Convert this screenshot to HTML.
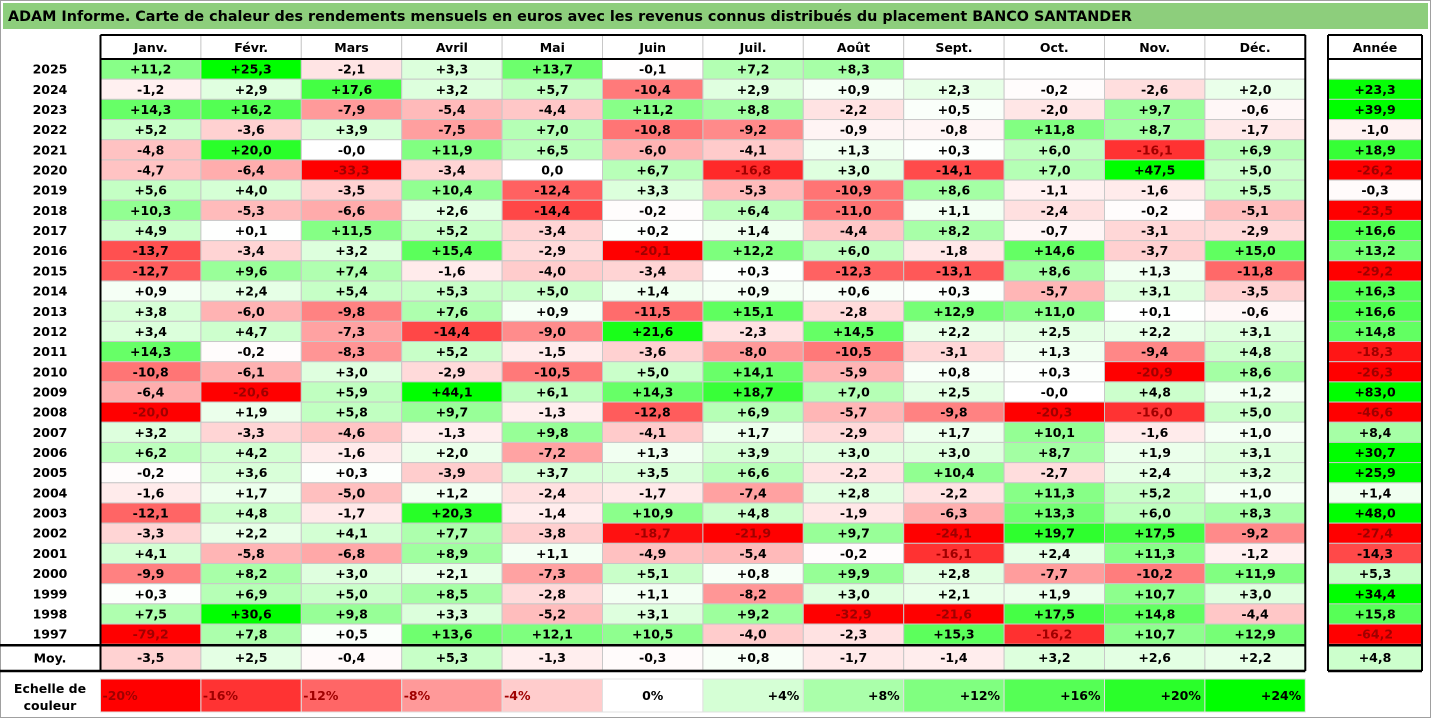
<!DOCTYPE html>
<html><head><meta charset="utf-8"><style>
html,body{margin:0;padding:0;background:#fff;}
svg{display:block;font-family:"DejaVu Sans","Liberation Sans",sans-serif;font-weight:bold;}
</style></head><body>
<svg id="chart" width="1431" height="718" viewBox="0 0 1431 718" xmlns="http://www.w3.org/2000/svg">
<rect x="0.5" y="0.5" width="1430" height="717" fill="#fff" stroke="#a0a0a0"/>
<rect x="3" y="3" width="1425" height="26" fill="#8dce7c"/>
<text x="8" y="21" font-size="14" textLength="1124" lengthAdjust="spacingAndGlyphs" fill="#000">ADAM Informe. Carte de chaleur des rendements mensuels en euros avec les revenus connus distribués du placement BANCO SANTANDER</text>
<g id="cells"></g>
<g id="lines"></g>
</svg>
<script>
const months = ["Janv.","Févr.","Mars","Avril","Mai","Juin","Juil.","Août","Sept.","Oct.","Nov.","Déc."];
const years = [2025,2024,2023,2022,2021,2020,2019,2018,2017,2016,2015,2014,2013,2012,2011,2010,2009,2008,2007,2006,2005,2004,2003,2002,2001,2000,1999,1998,1997];
const monthly = [
[11.2,25.3,-2.1,3.3,13.7,-0.1,7.2,8.3,null,null,null,null],
[-1.2,2.9,17.6,3.2,5.7,-10.4,2.9,0.9,2.3,-0.2,-2.6,2.0],
[14.3,16.2,-7.9,-5.4,-4.4,11.2,8.8,-2.2,0.5,-2.0,9.7,-0.6],
[5.2,-3.6,3.9,-7.5,7.0,-10.8,-9.2,-0.9,-0.8,11.8,8.7,-1.7],
[-4.8,20.0,-0.001,11.9,6.5,-6.0,-4.1,1.3,0.3,6.0,-16.1,6.9],
[-4.7,-6.4,-33.3,-3.4,0.0,6.7,-16.8,3.0,-14.1,7.0,47.5,5.0],
[5.6,4.0,-3.5,10.4,-12.4,3.3,-5.3,-10.9,8.6,-1.1,-1.6,5.5],
[10.3,-5.3,-6.6,2.6,-14.4,-0.2,6.4,-11.0,1.1,-2.4,-0.2,-5.1],
[4.9,0.1,11.5,5.2,-3.4,0.2,1.4,-4.4,8.2,-0.7,-3.1,-2.9],
[-13.7,-3.4,3.2,15.4,-2.9,-20.1,12.2,6.0,-1.8,14.6,-3.7,15.0],
[-12.7,9.6,7.4,-1.6,-4.0,-3.4,0.3,-12.3,-13.1,8.6,1.3,-11.8],
[0.9,2.4,5.4,5.3,5.0,1.4,0.9,0.6,0.3,-5.7,3.1,-3.5],
[3.8,-6.0,-9.8,7.6,0.9,-11.5,15.1,-2.8,12.9,11.0,0.1,-0.6],
[3.4,4.7,-7.3,-14.4,-9.0,21.6,-2.3,14.5,2.2,2.5,2.2,3.1],
[14.3,-0.2,-8.3,5.2,-1.5,-3.6,-8.0,-10.5,-3.1,1.3,-9.4,4.8],
[-10.8,-6.1,3.0,-2.9,-10.5,5.0,14.1,-5.9,0.8,0.3,-20.9,8.6],
[-6.4,-20.6,5.9,44.1,6.1,14.3,18.7,7.0,2.5,-0.001,4.8,1.2],
[-20.0,1.9,5.8,9.7,-1.3,-12.8,6.9,-5.7,-9.8,-20.3,-16.0,5.0],
[3.2,-3.3,-4.6,-1.3,9.8,-4.1,1.7,-2.9,1.7,10.1,-1.6,1.0],
[6.2,4.2,-1.6,2.0,-7.2,1.3,3.9,3.0,3.0,8.7,1.9,3.1],
[-0.2,3.6,0.3,-3.9,3.7,3.5,6.6,-2.2,10.4,-2.7,2.4,3.2],
[-1.6,1.7,-5.0,1.2,-2.4,-1.7,-7.4,2.8,-2.2,11.3,5.2,1.0],
[-12.1,4.8,-1.7,20.3,-1.4,10.9,4.8,-1.9,-6.3,13.3,6.0,8.3],
[-3.3,2.2,4.1,7.7,-3.8,-18.7,-21.9,9.7,-24.1,19.7,17.5,-9.2],
[4.1,-5.8,-6.8,8.9,1.1,-4.9,-5.4,-0.2,-16.1,2.4,11.3,-1.2],
[-9.9,8.2,3.0,2.1,-7.3,5.1,0.8,9.9,2.8,-7.7,-10.2,11.9],
[0.3,6.9,5.0,8.5,-2.8,1.1,-8.2,3.0,2.1,1.9,10.7,3.0],
[7.5,30.6,9.8,3.3,-5.2,3.1,9.2,-32.9,-21.6,17.5,14.8,-4.4],
[-79.2,7.8,0.5,13.6,12.1,10.5,-4.0,-2.3,15.3,-16.2,10.7,12.9]
];
const annual = [null,23.3,39.9,-1.0,18.9,-26.2,-0.3,-23.5,16.6,13.2,-29.2,16.3,16.6,14.8,-18.3,-26.3,83.0,-46.6,8.4,30.7,25.9,1.4,48.0,-27.4,-14.3,5.3,34.4,15.8,-64.2];
const averages = [-3.5,2.5,-0.4,5.3,-1.3,-0.3,0.8,-1.7,-1.4,3.2,2.6,2.2];
const averageAnnual = 4.8;
const scaleTicks = [-20,-16,-12,-8,-4,0,4,8,12,16,20,24];

const NS="http://www.w3.org/2000/svg";
const cells=document.getElementById('cells'), lines=document.getElementById('lines');
const X0=100.5, CW=100.4, AX=1328, AW=94;
const Y0=59, RH=20.18, MOY_Y=645, MOY_H=25;
function colX(i){return X0+i*CW;}
function rowY(r){return Y0+r*RH;}
function color(v){
  if(v===null) return '#ffffff';
  let r,g,b;
  if(v<0){const t=Math.min(1,-v/20);r=255;g=Math.round(255*(1-t));b=g;}
  else{const t=Math.min(1,v/24);g=255;r=Math.round(255*(1-t));b=r;}
  return `rgb(${r},${g},${b})`;
}
function fmt(v){
  if(v===null) return '';
  if(v===0) return '0,0';
  return (v<0?'-':'+')+Math.abs(v).toFixed(1).replace('.',',');
}
function mk(tag,attrs,parent){const e=document.createElementNS(NS,tag);for(const k in attrs)e.setAttribute(k,attrs[k]);parent.appendChild(e);return e;}
function cell(x,y,w,h,v,name){
  const r=mk('rect',{x:x,y:y,width:w,height:h,fill:color(v),stroke:'#c8c8c8','stroke-width':1},cells);
  
  
  if(v!==null){
    const t=mk('text',{x:x+w/2,y:y+h/2+4.5,'text-anchor':'middle','font-size':12.5,fill:(v<=-16?'#a00000':'#000')},cells);
    
    
    t.textContent=fmt(v);
  }
}
function label(x,y,txt,name,size,anchor,fill){
  const t=mk('text',{x:x,y:y,'text-anchor':anchor||'middle','font-size':size||12.5,fill:fill||'#000'},cells);
  
  
  t.textContent=txt;return t;
}
months.forEach((m,i)=>{
  mk('rect',{x:colX(i),y:35,width:CW,height:24,fill:'#fff',stroke:'#c8c8c8'},cells);
  label(colX(i)+CW/2,52,m,'month-header-'+i);
});
mk('rect',{x:AX,y:35,width:AW,height:24,fill:'#fff'},cells);
label(AX+AW/2,52,'Année','annual-header');
years.forEach((y,r)=>{
  label(50,rowY(r)+RH/2+4.5,String(y),'year-label-'+y);
  monthly[r].forEach((v,i)=>cell(colX(i),rowY(r),CW,RH,v,'cell-'+y+'-'+i));
  cell(AX,rowY(r),AW,RH,annual[r],'annual-'+y);
});
label(50,MOY_Y+MOY_H/2+5,'Moy.','average-label');
averages.forEach((v,i)=>cell(colX(i),MOY_Y,CW,MOY_H,v,'average-'+i));
cell(AX,MOY_Y,AW,MOY_H,averageAnnual,'average-annual');
label(50,693,'Echelle de','scale-label-1');
label(50,710,'couleur','scale-label-2');
scaleTicks.forEach((v,i)=>{
  const x=colX(i);
  const r=mk('rect',{x:x,y:679,width:CW,height:33,fill:color(v),stroke:'#e0e0e0'},cells);
  
  
  const txt=(v>0?'+':'')+v+'%';
  if(v<0) label(x+2,700,txt,'scale-tick-'+i,12.5,'start','#a00000');
  else if(v===0) label(x+CW/2,700,txt,'scale-tick-'+i,12.5,'middle','#000');
  else label(x+CW-4,700,txt,'scale-tick-'+i,12.5,'end','#000');
});
const L=(x1,y1,x2,y2,w,n)=>{const e=mk('line',{x1:x1,y1:y1,x2:x2,y2:y2,stroke:'#000','stroke-width':w||2},lines);};
const right=colX(12), bot=rowY(years.length);
L(X0,35,right,35,2,'header-top-border');
L(X0,59,right,59,2,'header-bottom-border');
L(0,bot+1,right,bot+1,2.5,'body-bottom-border');
L(0,MOY_Y+MOY_H+1,right,MOY_Y+MOY_H+1,2.5,'average-bottom-border');
L(X0,35,X0,MOY_Y+MOY_H+1,2,'left-border');
L(right,35,right,MOY_Y+MOY_H+1,2,'right-border');
L(AX,35,AX+AW,35,2,'annual-top');L(AX,59,AX+AW,59,2,'annual-header-bottom');
L(AX,bot+1,AX+AW,bot+1,2.5,'annual-body-bottom');L(AX,MOY_Y+MOY_H+1,AX+AW,MOY_Y+MOY_H+1,2.5,'annual-bottom');
L(AX,35,AX,MOY_Y+MOY_H+1,2,'annual-left');L(AX+AW,35,AX+AW,MOY_Y+MOY_H+1,2,'annual-right');
</script>
</body></html>
